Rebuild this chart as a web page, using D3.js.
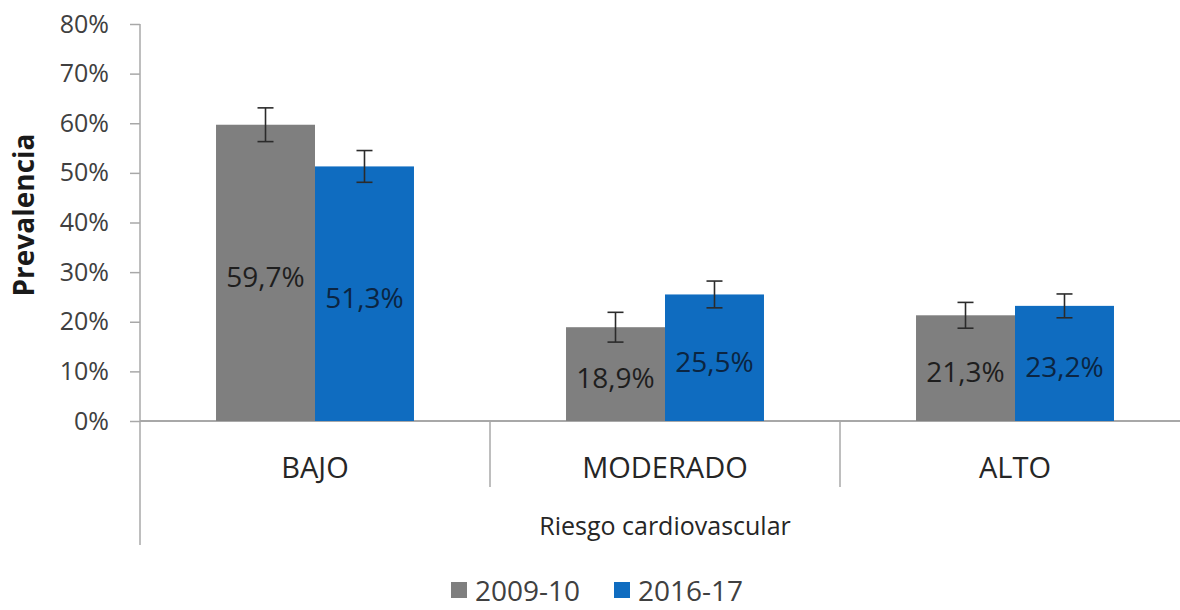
<!DOCTYPE html>
<html lang="es">
<head>
    <meta charset="UTF-8">
    <title>Prevalencia por riesgo cardiovascular</title>
    <script src="https://d3js.org/d3.v7.min.js"></script>
    <style>
        body {
            margin: 0;
            background-color: #ffffff;
            font-family: "Open Sans", Arial, sans-serif;
        }
        svg text {
            font-family: "Open Sans", Arial, sans-serif;
        }
        .tick text {
            font-size: 25px;
            fill: #404040;
        }
        .bar-label {
            font-size: 28px;
        }
        .axis-title {
            font-size: 25px;
            fill: #262626;
        }
        .cat-label {
            font-size: 29px;
            fill: #262626;
        }
        .legend-text {
            font-size: 28px;
            fill: #404040;
        }
    </style>
</head>
<body>
    <svg id="chart" width="1180" height="610"></svg>

    <script>
        const categories = ["BAJO", "MODERADO", "ALTO"];
        const series = ["2009-10", "2016-17"];
        const values2009 = [59.7, 18.9, 21.3];
        const values2016 = [51.3, 25.5, 23.2];
        const err2009 = [3.4, 3.0, 2.6];
        const err2016 = [3.2, 2.7, 2.4];
        const yTicks = [0, 10, 20, 30, 40, 50, 60, 70, 80];
        const colors = ["#7f7f7f", "#0f6cc0"];
        const labelColors = ["#1e1e1e", "#0b2542"];

        const svg = d3.select("#chart");
        const axisColor = "#a8a8a8";

        const margin = { top: 24, left: 140, right: 1190, bottom: 421 };

        const y = d3.scaleLinear()
            .domain([0, 80])
            .range([margin.bottom, margin.top]);

        const x0 = d3.scaleBand()
            .domain(categories)
            .range([margin.left, margin.right])
            .padding(0);

        const x1 = d3.scaleBand()
            .domain(series)
            .range([0, x0.bandwidth()])
            .paddingInner(0)
            .paddingOuter(0.768);

        // rows: one per category and series
        const rows = [];
        categories.forEach((c, i) => {
            rows.push({ cat: c, s: series[0], v: values2009[i], e: err2009[i], k: 0 });
            rows.push({ cat: c, s: series[1], v: values2016[i], e: err2016[i], k: 1 });
        });

        // y axis
        const yAxis = svg.append("g")
            .attr("transform", `translate(${margin.left},0)`)
            .call(d3.axisLeft(y)
                .tickValues(yTicks)
                .tickFormat(d => d + "%")
                .tickSize(10)
                .tickSizeOuter(0)
                .tickPadding(21));
        yAxis.attr("font-family", null).attr("font-size", null);
        yAxis.select(".domain").remove();
        yAxis.selectAll(".tick line").attr("stroke", axisColor).attr("stroke-width", 1.5);

        // axis lines
        svg.append("line")
            .attr("x1", margin.left).attr("x2", margin.left)
            .attr("y1", y(80)).attr("y2", 545)
            .attr("stroke", axisColor).attr("stroke-width", 1.5);

        svg.append("line")
            .attr("x1", margin.left).attr("x2", 1180)
            .attr("y1", y(0)).attr("y2", y(0))
            .attr("stroke", axisColor).attr("stroke-width", 2);

        // category dividers
        svg.selectAll(".divider")
            .data(categories.slice(0, -1))
            .enter().append("line")
            .attr("class", "divider")
            .attr("x1", d => x0(d) + x0.bandwidth())
            .attr("x2", d => x0(d) + x0.bandwidth())
            .attr("y1", y(0))
            .attr("y2", 487)
            .attr("stroke", axisColor).attr("stroke-width", 1.5);

        // bars
        svg.selectAll(".bar")
            .data(rows)
            .enter().append("rect")
            .attr("class", "bar")
            .attr("x", d => x0(d.cat) + x1(d.s))
            .attr("y", d => y(d.v))
            .attr("width", x1.bandwidth())
            .attr("height", d => y(0) - y(d.v))
            .attr("fill", d => colors[d.k]);

        // error bars
        const capW = 8;
        const eb = svg.selectAll(".err")
            .data(rows)
            .enter().append("g")
            .attr("class", "err")
            .attr("stroke", "#2b2b2b")
            .attr("stroke-width", 1.6);
        eb.append("line")
            .attr("x1", d => x0(d.cat) + x1(d.s) + x1.bandwidth() / 2)
            .attr("x2", d => x0(d.cat) + x1(d.s) + x1.bandwidth() / 2)
            .attr("y1", d => y(d.v + d.e))
            .attr("y2", d => y(d.v - d.e));
        eb.selectAll(".cap")
            .data(d => [d.v + d.e, d.v - d.e].map(v => ({ d, v })))
            .enter().append("line")
            .attr("x1", p => x0(p.d.cat) + x1(p.d.s) + x1.bandwidth() / 2 - capW)
            .attr("x2", p => x0(p.d.cat) + x1(p.d.s) + x1.bandwidth() / 2 + capW)
            .attr("y1", p => y(p.v))
            .attr("y2", p => y(p.v));

        // value labels
        svg.selectAll(".bar-label")
            .data(rows)
            .enter().append("text")
            .attr("class", "bar-label")
            .attr("x", d => x0(d.cat) + x1(d.s) + x1.bandwidth() / 2)
            .attr("y", d => (y(d.v) + y(0)) / 2 + 3)
            .attr("text-anchor", "middle")
            .attr("dominant-baseline", "central")
            .attr("fill", d => labelColors[d.k])
            .text(d => d.v.toFixed(1).replace(".", ",") + "%");

        // category labels
        svg.selectAll(".cat-label")
            .data(categories)
            .enter().append("text")
            .attr("class", "cat-label")
            .attr("x", d => x0(d) + x0.bandwidth() / 2)
            .attr("y", 466)
            .attr("text-anchor", "middle")
            .attr("dominant-baseline", "central")
            .text(d => d);

        svg.append("text")
            .attr("class", "axis-title")
            .attr("x", (margin.left + margin.right) / 2)
            .attr("y", 525)
            .attr("text-anchor", "middle")
            .attr("dominant-baseline", "central")
            .text("Riesgo cardiovascular");

        svg.append("text")
            .attr("transform", `translate(23, 215) rotate(-90)`)
            .attr("text-anchor", "middle")
            .attr("dominant-baseline", "central")
            .attr("font-size", 28)
            .attr("font-weight", "bold")
            .attr("fill", "#1a1a1a")
            .text("Prevalencia");

        // legend
        const legendX = [451, 614];
        const legend = svg.selectAll(".legend")
            .data(series)
            .enter().append("g")
            .attr("class", "legend")
            .attr("transform", (d, i) => `translate(${legendX[i]}, 590)`);
        legend.append("rect")
            .attr("x", 0).attr("y", -8)
            .attr("width", 16).attr("height", 16)
            .attr("fill", (d, i) => colors[i]);
        legend.append("text")
            .attr("class", "legend-text")
            .attr("x", 24)
            .attr("y", 0)
            .attr("dominant-baseline", "central")
            .text(d => d);
    </script>
</body>
</html>
